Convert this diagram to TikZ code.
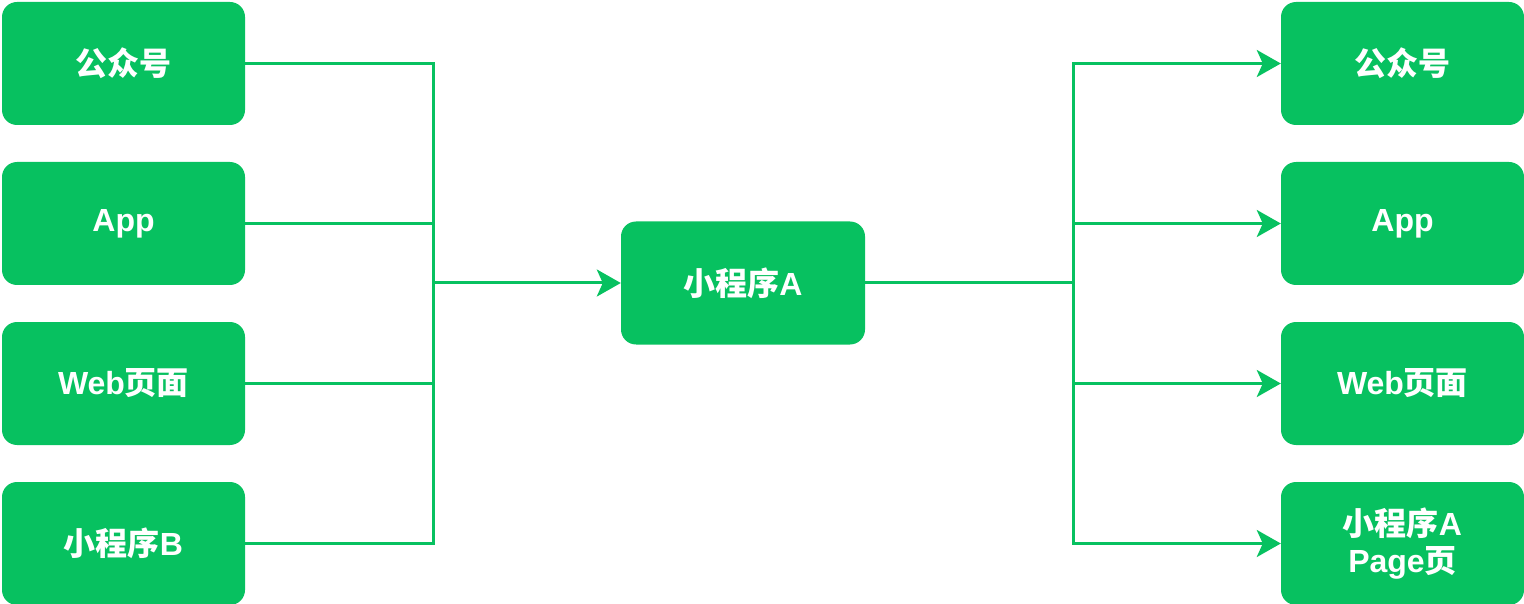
\documentclass[tikz,border=0pt]{standalone}
\usepackage{fontspec}
\setmainfont{Liberation Sans}
\newfontfamily\cjk{Noto Sans CJK SC}
\newcommand{\zh}[1]{{\cjk\bfseries #1}}
\usetikzlibrary{arrows.meta}
\definecolor{wxgreen}{HTML}{07C160}
\tikzset{
  card/.style={fill=wxgreen, rounded corners=15pt, minimum width=243pt,
    minimum height=123pt, inner sep=0pt, text=white, align=center,
    font=\fontsize{32pt}{37pt}\selectfont\bfseries},
  link/.style={draw=wxgreen, line width=3pt},
  arrowlink/.style={link, -{Stealth[length=24pt, width=27pt, inset=6pt]}}
}
\begin{document}
\begin{tikzpicture}[x=1pt, y=-1pt]
\useasboundingbox (0,0) rectangle (1524,604);
% sources
\node[card] (l1) at (123.5,63.5) {\zh{公众号}};
\node[card] (l2) at (123.5,223.5) {App};
\node[card] (l3) at (123.5,383.5) {Web\zh{页面}};
\node[card] (l4) at (123.5,543.5) {\zh{小程序}B};
% hub
\node[card, minimum width=244pt] (c) at (743,283) {\zh{小程序}A};
% targets
\node[card] (r1) at (1402.5,63.5) {\zh{公众号}};
\node[card] (r2) at (1402.5,223.5) {App};
\node[card] (r3) at (1402.5,383.5) {Web\zh{页面}};
\node[card] (r4) at (1402.5,543.5) {\zh{小程序}A\\Page\zh{页}};
% junctions
\coordinate (jl) at (433,283);
\coordinate (jr) at (1073,283);
% incoming links
\foreach \n in {l1,l2,l3,l4} \draw[link] (\n.east) -| (jl);
\draw[arrowlink] (jl) -- (c.west);
% outgoing links
\draw[link] (c.east) -- (jr);
\foreach \n in {r1,r2,r3,r4} \draw[arrowlink] (jr) |- (\n.west);
\end{tikzpicture}
\end{document}
